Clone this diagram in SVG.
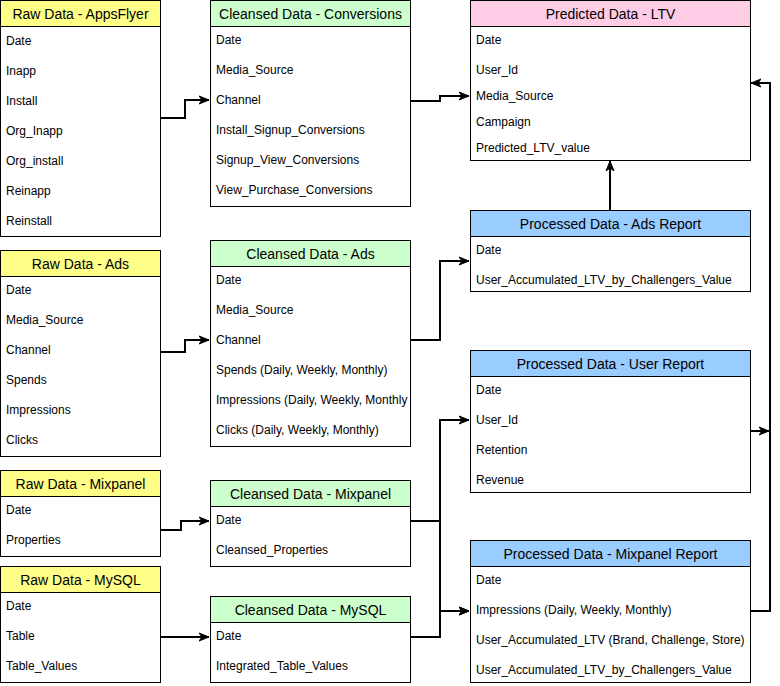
<svg xmlns="http://www.w3.org/2000/svg" width="780" height="686" viewBox="0 0 780 686">
<style>
.box{fill:#ffffff;stroke:#000000;stroke-width:1}
.raw{fill:#ffff88;stroke:#000000;stroke-width:1}
.cln{fill:#ccffcc;stroke:#000000;stroke-width:1}
.pred{fill:#ffcce6;stroke:#000000;stroke-width:1}
.proc{fill:#99ccff;stroke:#000000;stroke-width:1}
.h{font-family:"Liberation Sans",Arial,sans-serif;font-size:14px;fill:#000;text-anchor:middle}
.r{font-family:"Liberation Sans",Arial,sans-serif;font-size:12px;fill:#000}
.e{fill:none;stroke:#000000;stroke-width:2}
</style>
<defs>
<marker id="arr" markerUnits="userSpaceOnUse" markerWidth="12" markerHeight="10" refX="10" refY="5" orient="auto" viewBox="0 0 12 10">
<path d="M0,1 L10,5 L0,9 L3,5 Z" fill="#000000" stroke="#000000" stroke-width="1"/>
</marker>
</defs>
<rect x="0" y="0" width="780" height="686" fill="#ffffff"/>

<g id="connectors">
<path class="e" d="M160,118 H185 V100 H209" marker-end="url(#arr)"/>
<path class="e" d="M160,352 H185 V340 H209" marker-end="url(#arr)"/>
<path class="e" d="M160,530 H181 V521 H209" marker-end="url(#arr)"/>
<path class="e" d="M160,637 H209" marker-end="url(#arr)"/>
<path class="e" d="M410,101 H440 V96 H469" marker-end="url(#arr)"/>
<path class="e" d="M410,340 H440 V261 H469" marker-end="url(#arr)"/>
<path class="e" d="M410,521 H440 V420 H469" marker-end="url(#arr)"/>
<path class="e" d="M410,521 H440 V611 H469" marker-end="url(#arr)"/>
<path class="e" d="M410,637 H440 V611 H469" marker-end="url(#arr)"/>
<path class="e" d="M610,211 V161" marker-end="url(#arr)"/>
<path class="e" d="M750,431 H769" marker-end="url(#arr)"/>
<path class="e" d="M750,611 H770 V83 H751" marker-end="url(#arr)"/>
</g>

<g id="raw-appsflyer">
<rect class="box" x="0.5" y="0.5" width="160" height="236"/>
<rect class="raw" x="0.5" y="0.5" width="160" height="26"/>
<text class="h" x="80.5" y="19">Raw Data - AppsFlyer</text>
<text class="r" x="6" y="45">Date</text>
<text class="r" x="6" y="75">Inapp</text>
<text class="r" x="6" y="105">Install</text>
<text class="r" x="6" y="135">Org_Inapp</text>
<text class="r" x="6" y="165">Org_install</text>
<text class="r" x="6" y="195">Reinapp</text>
<text class="r" x="6" y="225">Reinstall</text>
</g>

<g id="raw-ads">
<rect class="box" x="0.5" y="250.5" width="160" height="206"/>
<rect class="raw" x="0.5" y="250.5" width="160" height="26"/>
<text class="h" x="80.5" y="269">Raw Data - Ads</text>
<text class="r" x="6" y="294">Date</text>
<text class="r" x="6" y="324">Media_Source</text>
<text class="r" x="6" y="354">Channel</text>
<text class="r" x="6" y="384">Spends</text>
<text class="r" x="6" y="414">Impressions</text>
<text class="r" x="6" y="444">Clicks</text>
</g>

<g id="raw-mixpanel">
<rect class="box" x="0.5" y="470.5" width="160" height="86"/>
<rect class="raw" x="0.5" y="470.5" width="160" height="26"/>
<text class="h" x="80.5" y="489">Raw Data - Mixpanel</text>
<text class="r" x="6" y="514">Date</text>
<text class="r" x="6" y="544">Properties</text>
</g>

<g id="raw-mysql">
<rect class="box" x="0.5" y="566.5" width="160" height="116"/>
<rect class="raw" x="0.5" y="566.5" width="160" height="26"/>
<text class="h" x="80.5" y="585">Raw Data - MySQL</text>
<text class="r" x="6" y="610">Date</text>
<text class="r" x="6" y="640">Table</text>
<text class="r" x="6" y="670">Table_Values</text>
</g>

<g id="cleansed-conversions">
<rect class="box" x="210.5" y="0.5" width="200" height="206"/>
<rect class="cln" x="210.5" y="0.5" width="200" height="26"/>
<text class="h" x="310.5" y="19">Cleansed Data - Conversions</text>
<text class="r" x="216" y="44">Date</text>
<text class="r" x="216" y="74">Media_Source</text>
<text class="r" x="216" y="104">Channel</text>
<text class="r" x="216" y="134">Install_Signup_Conversions</text>
<text class="r" x="216" y="164">Signup_View_Conversions</text>
<text class="r" x="216" y="194">View_Purchase_Conversions</text>
</g>

<g id="cleansed-ads">
<rect class="box" x="210.5" y="240.5" width="200" height="206"/>
<rect class="cln" x="210.5" y="240.5" width="200" height="26"/>
<text class="h" x="310.5" y="259">Cleansed Data - Ads</text>
<text class="r" x="216" y="284">Date</text>
<text class="r" x="216" y="314">Media_Source</text>
<text class="r" x="216" y="344">Channel</text>
<text class="r" x="216" y="374">Spends (Daily, Weekly, Monthly)</text>
<text class="r" x="216" y="404">Impressions (Daily, Weekly, Monthly</text>
<text class="r" x="216" y="434">Clicks (Daily, Weekly, Monthly)</text>
</g>

<g id="cleansed-mixpanel">
<rect class="box" x="210.5" y="480.5" width="200" height="86"/>
<rect class="cln" x="210.5" y="480.5" width="200" height="26"/>
<text class="h" x="310.5" y="499">Cleansed Data - Mixpanel</text>
<text class="r" x="216" y="524">Date</text>
<text class="r" x="216" y="554">Cleansed_Properties</text>
</g>

<g id="cleansed-mysql">
<rect class="box" x="210.5" y="596.5" width="200" height="86"/>
<rect class="cln" x="210.5" y="596.5" width="200" height="26"/>
<text class="h" x="310.5" y="615">Cleansed Data - MySQL</text>
<text class="r" x="216" y="640">Date</text>
<text class="r" x="216" y="670">Integrated_Table_Values</text>
</g>

<g id="predicted-ltv">
<rect class="box" x="470.5" y="0.5" width="280" height="160"/>
<rect class="pred" x="470.5" y="0.5" width="280" height="26"/>
<text class="h" x="610.5" y="19">Predicted Data - LTV</text>
<text class="r" x="476" y="44">Date</text>
<text class="r" x="476" y="74">User_Id</text>
<text class="r" x="476" y="100">Media_Source</text>
<text class="r" x="476" y="126">Campaign</text>
<text class="r" x="476" y="152">Predicted_LTV_value</text>
</g>

<g id="processed-ads-report">
<rect class="box" x="470.5" y="210.5" width="280" height="81"/>
<rect class="proc" x="470.5" y="210.5" width="280" height="26"/>
<text class="h" x="610.5" y="229">Processed Data - Ads Report</text>
<text class="r" x="476" y="254">Date</text>
<text class="r" x="476" y="284">User_Accumulated_LTV_by_Challengers_Value</text>
</g>

<g id="processed-user-report">
<rect class="box" x="470.5" y="350.5" width="280" height="142"/>
<rect class="proc" x="470.5" y="350.5" width="280" height="26"/>
<text class="h" x="610.5" y="369">Processed Data - User Report</text>
<text class="r" x="476" y="394">Date</text>
<text class="r" x="476" y="424">User_Id</text>
<text class="r" x="476" y="454">Retention</text>
<text class="r" x="476" y="484">Revenue</text>
</g>

<g id="processed-mixpanel-report">
<rect class="box" x="470.5" y="540.5" width="280" height="142"/>
<rect class="proc" x="470.5" y="540.5" width="280" height="26"/>
<text class="h" x="610.5" y="559">Processed Data - Mixpanel Report</text>
<text class="r" x="476" y="584">Date</text>
<text class="r" x="476" y="614">Impressions (Daily, Weekly, Monthly)</text>
<text class="r" x="476" y="644">User_Accumulated_LTV (Brand, Challenge, Store)</text>
<text class="r" x="476" y="674">User_Accumulated_LTV_by_Challengers_Value</text>
</g>
</svg>
